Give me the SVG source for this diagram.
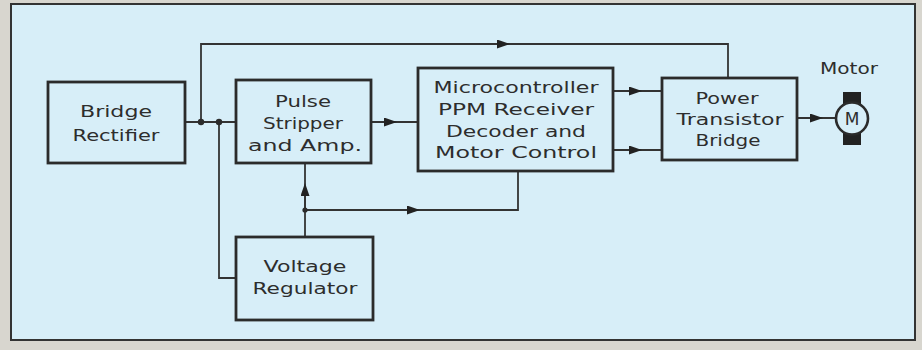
<svg xmlns="http://www.w3.org/2000/svg" width="922" height="350" viewBox="0 0 922 350">
<style>
.box{fill:none;stroke:#2b2b2b;stroke-width:2.8}
.ln{fill:none;stroke:#333;stroke-width:1.8}
.t{font-family:"DejaVu Sans","Liberation Sans",sans-serif;font-size:16.5px;fill:#2d2d2d;text-anchor:middle}
.dot{fill:#2b2b2b}
</style>
<defs>
<marker id="ah" viewBox="0 0 13 9" refX="7" refY="4.5" markerWidth="13" markerHeight="9" markerUnits="userSpaceOnUse" orient="auto">
<path d="M0,0 L13,4.5 L0,9 z" fill="#222"/>
</marker>
</defs>
<rect x="0" y="0" width="922" height="350" fill="#d8d6cf"/>
<rect x="11" y="4" width="904" height="336" fill="#d7eef8" stroke="#333" stroke-width="2"/>
<g id="connectors">
<path class="ln" d="M185,122 H236"/>
<path class="ln" d="M201,122 V44 H728 V78"/>
<path class="ln" d="M201,44 H504" marker-end="url(#ah)"/>
<path class="ln" d="M219,122 V278 H236"/>
<path class="ln" d="M371,122 H418"/>
<path class="ln" d="M371,122 H391" marker-end="url(#ah)"/>
<path class="ln" d="M305,237 V163"/>
<path class="ln" d="M305,210 V189" marker-end="url(#ah)"/>
<path class="ln" d="M305,210 H518 V171"/>
<path class="ln" d="M305,210 H414" marker-end="url(#ah)"/>
<path class="ln" d="M613,91 H662"/>
<path class="ln" d="M613,91 H636" marker-end="url(#ah)"/>
<path class="ln" d="M613,150 H662"/>
<path class="ln" d="M613,150 H636" marker-end="url(#ah)"/>
<path class="ln" d="M797,118 H836"/>
<path class="ln" d="M797,118 H817" marker-end="url(#ah)"/>
<circle class="dot" cx="201" cy="122" r="3.2"/>
<circle class="dot" cx="219" cy="122" r="3.2"/>
<circle class="dot" cx="305" cy="210" r="2.6"/>
</g>
<g id="bridge-rectifier">
<rect class="box" x="48" y="82" width="137" height="81"/>
<text class="t" x="116" y="117" textLength="72" lengthAdjust="spacingAndGlyphs">Bridge</text>
<text class="t" x="116" y="141" textLength="87" lengthAdjust="spacingAndGlyphs">Rectifier</text>
</g>
<g id="pulse-stripper">
<rect class="box" x="236" y="80" width="135" height="83"/>
<text class="t" x="303" y="107" textLength="56" lengthAdjust="spacingAndGlyphs">Pulse</text>
<text class="t" x="303" y="129" textLength="80" lengthAdjust="spacingAndGlyphs">Stripper</text>
<text class="t" x="305" y="151" textLength="114" lengthAdjust="spacingAndGlyphs">and  Amp.</text>
</g>
<g id="microcontroller">
<rect class="box" x="418" y="68" width="195" height="103"/>
<text class="t" x="516" y="93" textLength="165" lengthAdjust="spacingAndGlyphs">Microcontroller</text>
<text class="t" x="516" y="115" textLength="156" lengthAdjust="spacingAndGlyphs">PPM  Receiver</text>
<text class="t" x="516" y="137" textLength="140" lengthAdjust="spacingAndGlyphs">Decoder  and</text>
<text class="t" x="516" y="158" textLength="162" lengthAdjust="spacingAndGlyphs">Motor  Control</text>
</g>
<g id="power-transistor-bridge">
<rect class="box" x="662" y="78" width="135" height="82"/>
<text class="t" x="727" y="104" textLength="63" lengthAdjust="spacingAndGlyphs">Power</text>
<text class="t" x="730" y="125" textLength="107" lengthAdjust="spacingAndGlyphs">Transistor</text>
<text class="t" x="728" y="146" textLength="65" lengthAdjust="spacingAndGlyphs">Bridge</text>
</g>
<g id="voltage-regulator">
<rect class="box" x="236" y="237" width="137" height="83"/>
<text class="t" x="305" y="272" textLength="83" lengthAdjust="spacingAndGlyphs">Voltage</text>
<text class="t" x="305" y="294" textLength="105" lengthAdjust="spacingAndGlyphs">Regulator</text>
</g>
<g id="motor">
<text class="t" x="849" y="74" textLength="58" lengthAdjust="spacingAndGlyphs">Motor</text>
<rect x="843" y="92" width="18" height="12" fill="#222"/>
<rect x="843" y="133" width="18" height="12" fill="#222"/>
<circle cx="852" cy="118.5" r="16" fill="#d7eef8" stroke="#2b2b2b" stroke-width="2.6"/>
<text class="t" x="852" y="125" style="font-size:17px">M</text>
</g>
</svg>
